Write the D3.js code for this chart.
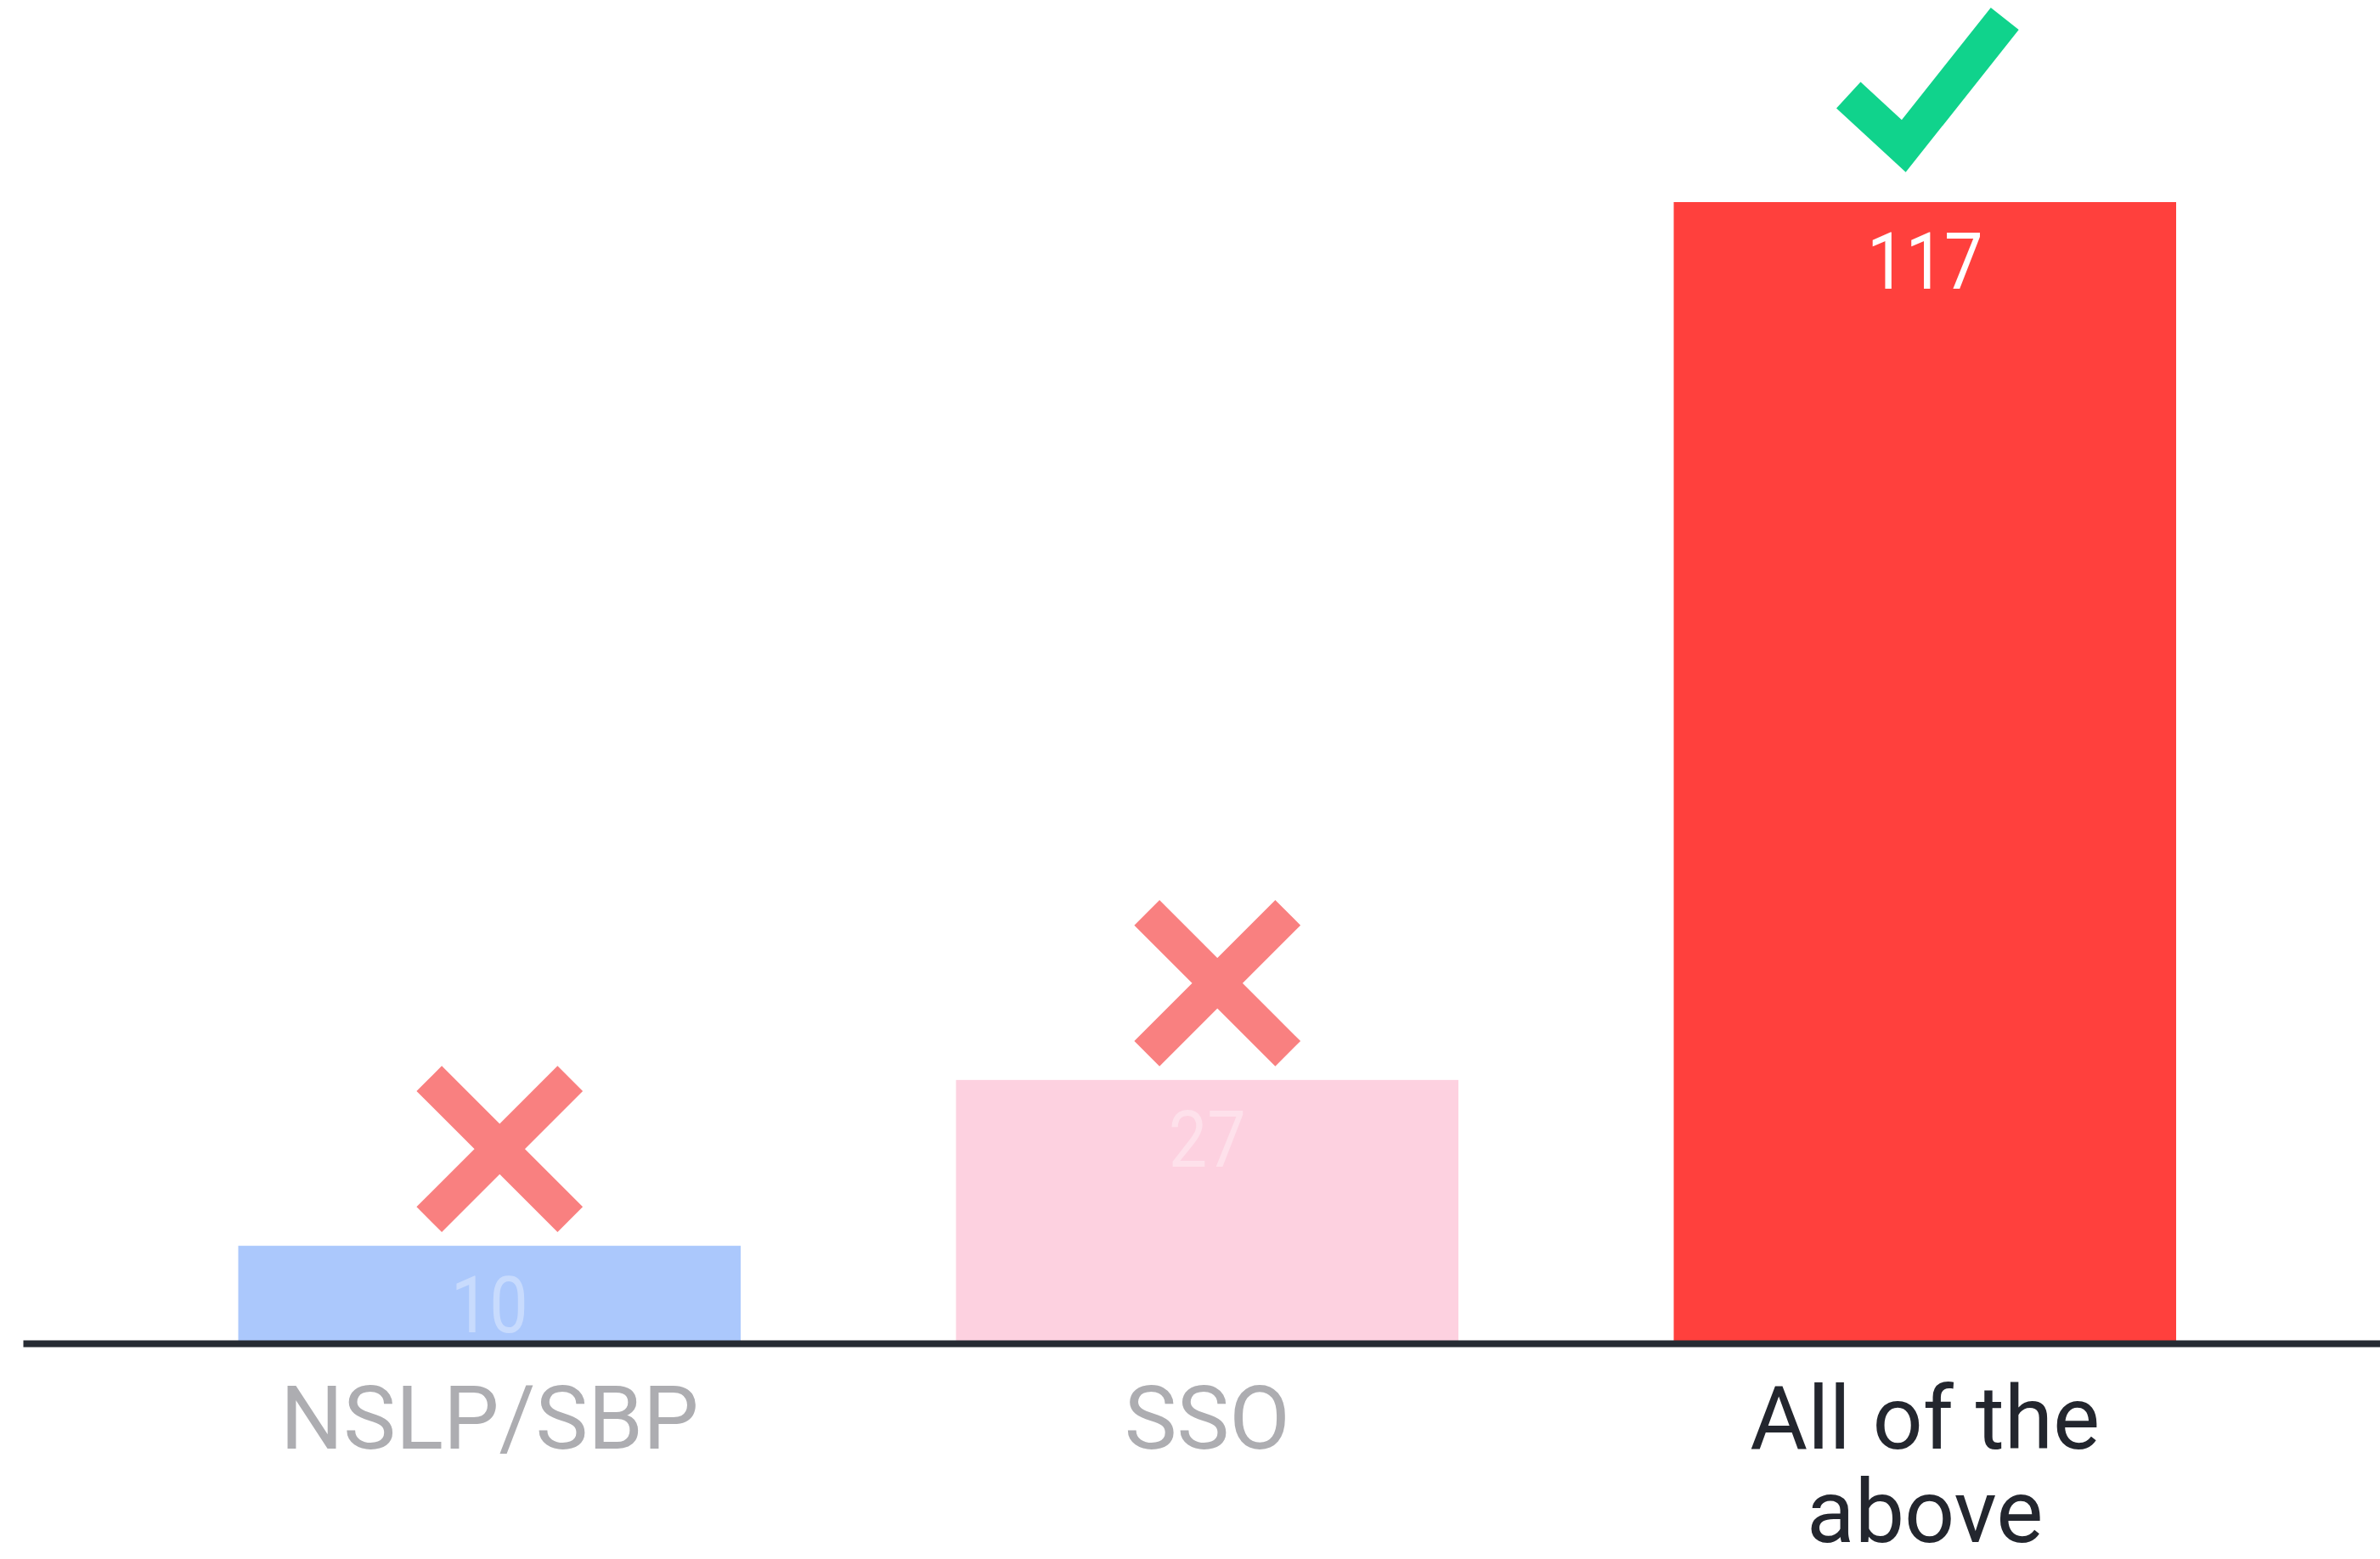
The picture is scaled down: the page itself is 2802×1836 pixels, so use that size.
<!DOCTYPE html>
<html>
<head>
<meta charset="utf-8">
<script src="https://cdn.jsdelivr.net/npm/d3@7"></script>
<style>
  body { margin: 0; background: #fff; }
  svg { display: block; }
</style>
</head>
<body>
<div id="chart"></div>
<script>
// answers to the quiz question
var categories = ["NSLP/SBP", "SSO", "All of the above"];
var responses = [10, 27, 117];
var verdicts = ["wrong", "wrong", "right"];

var width = 2802, height = 1836;
var baseline = 1582;

var barColor = d3.scaleOrdinal().domain(categories).range(["#abc8fc", "#fdd1e0", "#ff403d"]);
var labelColor = d3.scaleOrdinal().domain(categories).range(["#adadb1", "#adadb1", "#23262e"]);
var valueOpacity = d3.scaleOrdinal().domain(verdicts).range([0.35, 1]);

function draw() {
    var svg = d3.select("#chart").append("svg")
        .attr("width", width)
        .attr("height", height);

    var x = d3.scaleBand()
        .domain(categories)
        .range([27, 27 + 845 * 3.3])
        .paddingInner(0.3)
        .paddingOuter(0.3);

    var y = d3.scaleLinear()
        .domain([0, d3.max(responses)])
        .range([baseline, 238]);

    var rows = categories.map(function(c, i) {
        return { cat: c, value: responses[i], verdict: verdicts[i] };
    });

    var mid = function(d) { return x(d.cat) + x.bandwidth() / 2; };

    svg.selectAll("rect.bar")
        .data(rows)
        .enter()
        .append("rect")
        .attr("class", "bar")
        .attr("x", function(d) { return x(d.cat); })
        .attr("y", function(d) { return y(d.value); })
        .attr("width", x.bandwidth())
        .attr("height", function(d) { return baseline - y(d.value); })
        .attr("fill", function(d) { return barColor(d.cat); });

    // numbers are a bit condensed in the original
    svg.selectAll("text.value")
        .data(rows)
        .enter()
        .append("text")
        .attr("class", "value")
        .attr("transform", function(d) {
            return "translate(" + mid(d) + "," + (y(d.value) + 102) + ") scale(0.88,1)";
        })
        .attr("text-anchor", "middle")
        .style("font-family", "Roboto, 'Liberation Sans', sans-serif")
        .style("font-size", "92px")
        .attr("fill", "#fff")
        .attr("fill-opacity", function(d) { return valueOpacity(d.verdict); })
        .text(function(d) { return d.value; });

    // cross or tick above each bar
    var marks = svg.selectAll("g.mark")
        .data(rows)
        .enter()
        .append("g")
        .attr("class", "mark")
        .attr("transform", function(d) {
            return "translate(" + mid(d) + "," + y(d.value) + ")";
        });

    marks.filter(function(d) { return d.verdict == "wrong"; })
        .append("path")
        .attr("d", "M-71,-197L95,-31M95,-197L-71,-31")
        .attr("stroke", "#f98080")
        .attr("stroke-width", 42)
        .attr("fill", "none");

    marks.filter(function(d) { return d.verdict == "right"; })
        .append("path")
        .attr("d", "M-90,-126L-25,-66L94,-216")
        .attr("stroke", "#10d38c")
        .attr("stroke-width", 42)
        .attr("stroke-linejoin", "miter")
        .attr("fill", "none");

    var axis = svg.append("g")
        .attr("transform", "translate(0," + baseline + ")")
        .call(d3.axisBottom(x).tickSize(0).tickPadding(50));

    axis.select(".domain")
        .attr("stroke", "#262b33")
        .attr("stroke-width", 8);

    axis.selectAll(".tick text")
        .style("font-family", "Roboto, 'Liberation Sans', Arial, sans-serif")
        .style("font-size", "104px")
        .attr("fill", function(d) { return labelColor(d); })
        .call(wrap, x.bandwidth());
}

function wrap(texts, w) {
    texts.each(function() {
        var text = d3.select(this),
            words = text.text().split(/\s+/),
            line = [],
            lineNo = 0,
            y = text.attr("y"),
            dy = parseFloat(text.attr("dy")),
            tspan = text.text(null).append("tspan").attr("x", 0).attr("y", y).attr("dy", dy + "em");
        words.forEach(function(word) {
            line.push(word);
            tspan.text(line.join(" "));
            if (tspan.node().getComputedTextLength() > w && line.length > 1) {
                line.pop();
                tspan.text(line.join(" "));
                line = [word];
                lineNo++;
                tspan = text.append("tspan").attr("x", 0).attr("y", y)
                    .attr("dy", (lineNo * 1.06 + dy) + "em").text(word);
            }
        });
    });
}

draw();
</script>
</body>
</html>
